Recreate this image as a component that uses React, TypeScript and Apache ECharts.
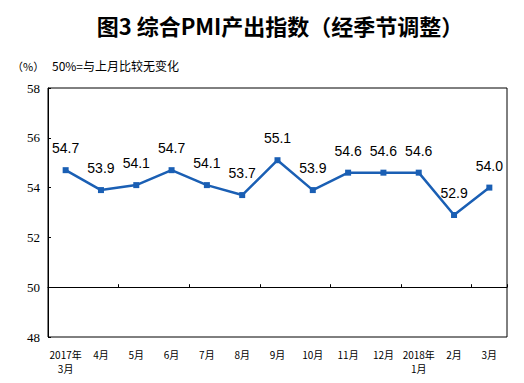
import React, { useEffect, useRef } from "react";
import * as echarts from "echarts";

const categories = ["2017年\n3月", "4月", "5月", "6月", "7月", "8月", "9月", "10月", "11月", "12月", "2018年\n1月", "2月", "3月"];
const values = [54.7, 53.9, 54.1, 54.7, 54.1, 53.7, 55.1, 53.9, 54.6, 54.6, 54.6, 52.9, 54.0];
const yMin = 48;
const yMax = 58;
const yStep = 2;
const baseline = 50;

const GRID = { left: 48, right: 17, top: 88, bottom: 46 };
const H = 383;

export default function App() {
  const ref = useRef<HTMLDivElement>(null);
  useEffect(() => {
    if (!ref.current) return;
    const chart = echarts.init(ref.current, undefined, { renderer: "svg" });
    const gridH = H - GRID.top - GRID.bottom;
    const baseOffset = -gridH * (baseline - yMin) / (yMax - yMin);
    chart.setOption({
      animation: false,
      backgroundColor: "#fff",
      title: [
        {
          text: "图3 综合PMI产出指数（经季节调整）",
          left: 275,
          top: 9,
          textAlign: "center",
          textStyle: { fontFamily: "Noto Sans CJK SC", fontSize: 22, fontWeight: "bold", color: "#000" },
        },
      ],
      graphic: [
        {
          type: "text",
          left: 12,
          top: 60,
          style: { text: "（%）", fontFamily: "Noto Sans CJK SC", fontSize: 11, fill: "#000" },
        },
        {
          type: "text",
          left: 52,
          top: 59,
          style: { text: "50%=与上月比较无变化", fontFamily: "Noto Sans CJK SC", fontSize: 12, fill: "#000" },
        },
      ],
      grid: { ...GRID, show: true, borderColor: "#000", borderWidth: 1, containLabel: false },
      xAxis: [
        {
          type: "category",
          data: categories,
          position: "bottom",
          offset: baseOffset,
          boundaryGap: true,
          axisLine: { show: true, lineStyle: { color: "#000", width: 1 } },
          axisTick: { show: true, inside: true, length: 3, lineStyle: { color: "#000" } },
          axisLabel: { show: false },
          splitLine: { show: false },
          z: 5,
        },
        {
          type: "category",
          data: categories,
          position: "bottom",
          boundaryGap: true,
          axisLine: { show: false },
          axisTick: { show: false },
          axisLabel: {
            show: true,
            interval: 0,
            margin: 10,
            color: "#000",
            fontFamily: "Noto Sans CJK SC",
            fontSize: 10,
            lineHeight: 14,
          },
          splitLine: { show: false },
        },
      ],
      yAxis: {
        type: "value",
        min: yMin,
        max: yMax,
        interval: yStep,
        axisLine: { show: true, lineStyle: { color: "#000" } },
        axisTick: { show: true, inside: true, length: 3, lineStyle: { color: "#000" } },
        axisLabel: { color: "#000", fontFamily: "Liberation Serif", fontSize: 13, margin: 8 },
        splitLine: { show: false },
      },
      series: [
        {
          type: "line",
          data: values,
          xAxisIndex: 0,
          symbol: "rect",
          symbolSize: 6,
          itemStyle: { color: "#1a5fb4" },
          lineStyle: { color: "#1a5fb4", width: 2.5 },
          label: {
            show: true,
            position: "top",
            distance: 12,
            formatter: (p: any) => Number(p.value).toFixed(1),
            color: "#000",
            fontFamily: "Liberation Sans",
            fontSize: 14,
          },
          z: 10,
        },
      ],
    });
    return () => chart.dispose();
  }, []);
  return <div ref={ref} style={{ width: 524, height: 383, position: "absolute", left: 0, top: 0 }} />;
}
